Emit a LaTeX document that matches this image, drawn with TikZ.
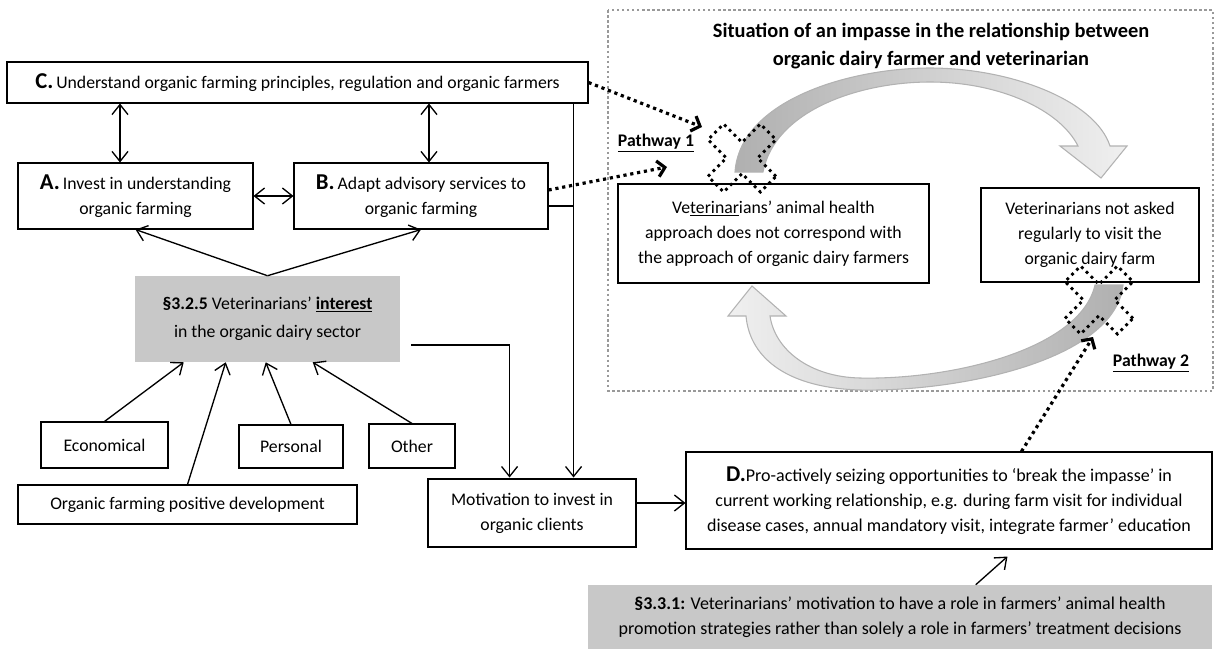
\documentclass[tikz,border=0pt]{standalone}
\usepackage{fontspec}
\setmainfont{Carlito}
\usetikzlibrary{arrows.meta}
\newcommand\dfont{\fontsize{13.3}{18.75}\selectfont}
\newcommand\wfont{\fontsize{13.5}{18.75}\selectfont}
\newcommand\bigL[1]{{\fontsize{17}{18}\selectfont\bfseries #1}}
\definecolor{boxgrey}{HTML}{C8C8C8}
\tikzset{
  box/.style={draw, line width=0.8pt, inner sep=0pt, align=center, font=\dfont},
  greybox/.style={fill=boxgrey, inner sep=0pt, align=center, font=\dfont},
  conn/.style={line width=1pt, -{Straight Barb[length=7.5pt,width=12pt]}},
  biconn/.style={line width=1pt, {Straight Barb[length=7.5pt,width=12pt]}-{Straight Barb[length=7.5pt,width=12pt]}},
  plainline/.style={line width=1pt},
  dotarrow/.style={line width=2.4pt, dash pattern=on 2.4pt off 2.8pt, -{Straight Barb[length=5.5pt,width=12pt,line width=2.4pt]}},
  crossdot/.style={line width=2.1pt, dash pattern=on 2.1pt off 3pt},
  framedot/.style={draw=gray!80, line width=1.9pt, dash pattern=on 1.9pt off 1.9pt},
  arcshape/.style={draw=gray!60, line width=0.8pt},
}
\begin{document}
\begin{tikzpicture}[x=0.75pt, y=-0.75pt]
\useasboundingbox (0,0) rectangle (1218,651);
% frame of the impasse situation
\draw[framedot] (608,10) rectangle (1213,391);
\node[font=\fontsize{15.3}{21}\selectfont\bfseries, align=center] (title) at (931,46) {Situation of an impasse in the relationship between\\organic dairy farmer and veterinarian};

% left side nodes
\node[box, minimum width=435.75pt, minimum height=30.75pt] (C) at (297.5,82.5) {\bigL{C.}\,Understand organic farming principles, regulation and organic farmers};
\node[box, minimum width=176.25pt, minimum height=49.5pt] (A) at (135.5,196) {\bigL{A.}\,Invest in understanding\\organic farming};
\node[box, minimum width=190.5pt, minimum height=49.5pt] (B) at (421,196) {\bigL{B.}\,Adapt advisory services to\\organic farming};
\node[greybox, minimum width=198.75pt, minimum height=64.5pt, font=\fontsize{13.3}{21}\selectfont] (I) at (267.5,319) {\textbf{§3.2.5} Veterinarians’ \textbf{\underline{interest}}\\in the organic dairy sector};
\node[box, minimum width=95.25pt, minimum height=34.5pt] (Econ) at (104.5,445) {Economical};
\node[box, minimum width=78pt, minimum height=32.25pt] (Pers) at (291,446.5) {Personal};
\node[box, minimum width=64.5pt, minimum height=33pt] (Oth) at (412,446) {Other};
\node[box, minimum width=254.25pt, minimum height=29.25pt] (Dev) at (187.5,504.5) {Organic farming positive development};
\node[box, line width=2.2pt, minimum width=156pt, minimum height=51pt] (Mot) at (532,513) {Motivation to invest in\\organic clients};
\node[box, minimum width=394.5pt, minimum height=72.75pt, font=\wfont] (D) at (949,500.5) {\bigL{D.}Pro-actively seizing opportunities to ‘break the impasse’ in\\current working relationship, e.g. during farm visit for individual\\disease cases, annual mandatory visit, integrate farmer’ education};
\node[greybox, minimum width=468pt, minimum height=48pt, font=\wfont] (G2) at (900,617) {\textbf{§3.3.1:} Veterinarians’ motivation to have a role in farmers’ animal health\\promotion strategies rather than solely a role in farmers’ treatment decisions};

% right side (impasse)
\node[box, minimum width=233.25pt, minimum height=74.25pt] (L) at (773.5,233.5) {Ve\underline{terinar}ians’ animal health\\approach does not correspond with\\the approach of organic dairy farmers};
\node[box, minimum width=163.5pt, minimum height=70.5pt] (R) at (1090,235) {Veterinarians not asked\\regularly to visit the\\organic dairy farm};
\node[font=\dfont\bfseries] (P1) at (656,143) {\underline{Pathway 1}};
\node[font=\dfont\bfseries] (P2) at (1151,363) {\underline{Pathway 2}};

% curved grey arrows
\shadedraw[arcshape, left color=gray!62, right color=gray!12]
  (763,172) -- (735,172) .. controls (740,100) and (850,68) .. (930,68)
  .. controls (1010,68) and (1095,100) .. (1110,146)
  -- (1127,146) -- (1101,178) -- (1060,146) -- (1078,146)
  .. controls (1060,110) and (1000,82) .. (930,82)
  .. controls (860,82) and (775,110) .. (763,172) -- cycle;
\shadedraw[arcshape, left color=gray!12, right color=gray!62]
  (1095,285) -- (1123,285) .. controls (1115,360) and (960,392) .. (860,390)
  .. controls (790,388) and (750,360) .. (746,316)
  -- (728,316) -- (752,286) -- (786,316) -- (770,316)
  .. controls (775,350) and (810,377) .. (860,378)
  .. controls (950,380) and (1080,350) .. (1095,285) -- cycle;

% dotted crosses
\begin{scope}[shift={(742,158)}, rotate=45]
\draw[crossdot] (11,37) -- (11,11) -- (37,11) -- (37,-11) -- (11,-11) -- (11,-37) -- (-11,-37) -- (-11,-11) -- (-37,-11) -- (-37,11) -- (-11,11) -- (-11,37) -- cycle;
\end{scope}
\begin{scope}[shift={(1099,300)}, rotate=45]
\draw[crossdot] (11,37) -- (11,11) -- (37,11) -- (37,-11) -- (11,-11) -- (11,-37) -- (-11,-37) -- (-11,-11) -- (-37,-11) -- (-37,11) -- (-11,11) -- (-11,37) -- cycle;
\end{scope}

% connectors, left part
\draw[biconn] (C.south -| 120,0) -- (A.north -| 120,0);
\draw[biconn] (C.south -| 429,0) -- (B.north -| 429,0);
\draw[biconn] (A.east) -- (B.west);
\draw[conn] (I.north) -- (A.south);
\draw[conn] (I.north) -- (B.south);
\draw[conn] (Econ.north) -- ([xshift=36.75pt]I.south west);
\draw[conn] (Dev.north) -- ([xshift=68.25pt]I.south west);
\draw[conn] (Pers.north) -- ([xshift=98.25pt]I.south west);
\draw[conn] (Oth.north) -- ([xshift=133.5pt]I.south west);
\coordinate (iout) at ([xshift=8.25pt,yshift=-19.5pt]I.east);
\draw[conn] (iout) -| ([xshift=62.25pt]Mot.north west);
\coordinate (cv) at ([xshift=-11.25pt]C.south east);
\draw[conn] (cv) -- (cv |- Mot.north);
\coordinate (bj) at ([yshift=-7.5pt]B.east);
\draw[plainline] (bj) -- (bj -| cv);
\coordinate (m1) at ([yshift=7.5pt]Mot.east);
\draw[conn] (m1) -- (m1 -| D.west);
\draw[conn] ([xshift=291pt]G2.north west) -- ([xshift=241.5pt,yshift=-5.25pt]D.south west);

% dotted arrows to the pathways
\coordinate (t1) at (702,127);
\coordinate (t2) at (667,167);
\coordinate (t3) at (1093,337);
\draw[dotarrow] (C.east) -- (t1);
\draw[dotarrow] ([yshift=4.5pt]B.east) -- (t2);
\draw[dotarrow] ([xshift=252pt]D.north west) -- (t3);
\end{tikzpicture}
\end{document}
